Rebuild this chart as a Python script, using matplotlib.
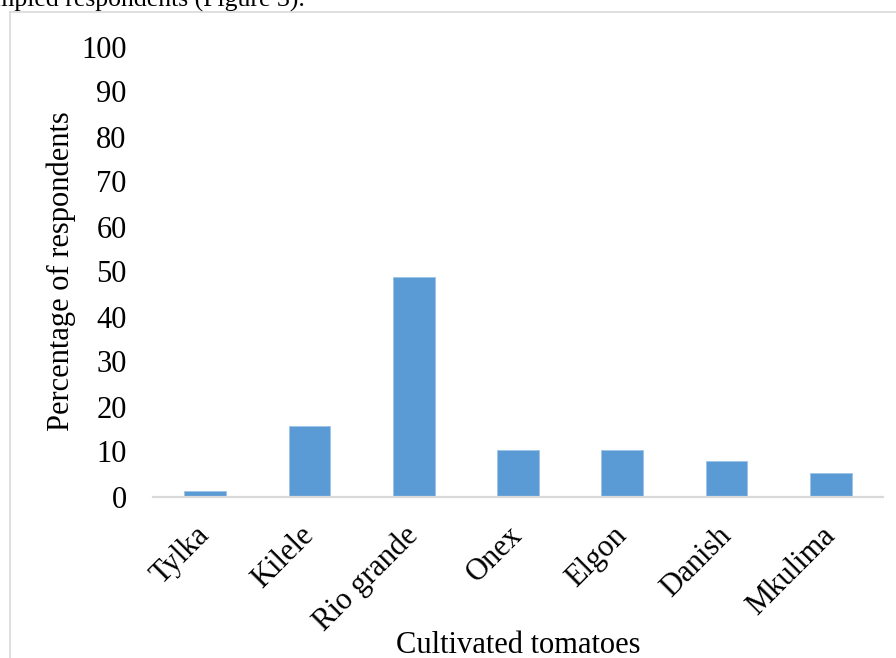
import numpy as np
import matplotlib.pyplot as plt
from matplotlib.lines import Line2D

varieties = ['Tylka', 'Kilele', 'Rio grande', 'Onex', 'Elgon', 'Danish', 'Mkulima']
percent = [1.2, 15.7, 48.7, 10.3, 10.3, 7.8, 5.3]
y_ticks = list(range(0, 101, 10))

plt.rcParams['font.family'] = ['Liberation Serif', 'DejaVu Serif']

W, H = 896, 658
fig = plt.figure(figsize=(W / 100, H / 100), dpi=100)
ax = fig.add_axes([153 / W, (H - 496.5) / H, 730 / W, 450 / H])

x = np.arange(len(varieties))
ax.bar(x, percent, width=0.4, color='#5B9BD5', edgecolor='#9DC3E6', linewidth=0.6, zorder=2)

ax.set_xlim(-0.5, len(varieties) - 0.5)
ax.set_ylim(0, 100)
ax.set_yticks(y_ticks)
ax.set_xticks(x)
ax.set_xticklabels(varieties, rotation=45, ha='right', va='center', rotation_mode='anchor')
ax.tick_params(axis='y', length=0, pad=19, labelsize=22)
ax.tick_params(axis='x', length=0, pad=25, labelsize=22)

for s in ['top', 'right', 'left']:
    ax.spines[s].set_visible(False)
ax.spines['bottom'].set_color('#D9D9D9')
ax.spines['bottom'].set_linewidth(1.6)

ax.set_ylabel('Percentage of respondents', fontsize=22, labelpad=4)
ax.set_xlabel('Cultivated tomatoes', fontsize=22)
ax.xaxis.set_label_coords(0.5, -0.298)

# chart frame (only left and top edges visible in the crop)
fig.add_artist(Line2D([9.5 / W, 9.5 / W], [0, (H - 12) / H], color='#D9D9D9', lw=1.2))
fig.add_artist(Line2D([9.5 / W, 1], [(H - 12) / H, (H - 12) / H], color='#D9D9D9', lw=1.2))

# clipped text from the page above the chart
fig.text(305 / W, (H - 7) / H, 'sampled respondents (Figure 3).', fontsize=18.5,
         ha='right', va='baseline')

fig.savefig('out.png', dpi=100)
